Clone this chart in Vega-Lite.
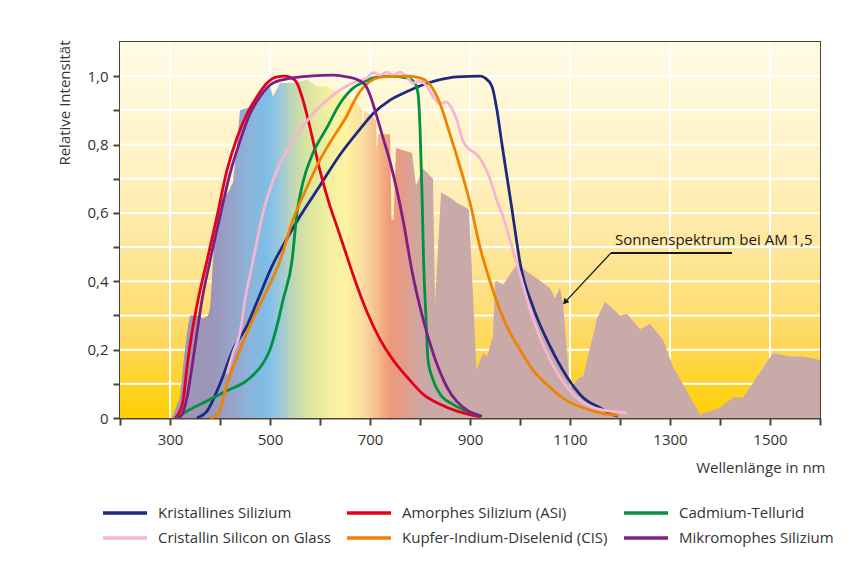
{
  "$schema": "https://vega.github.io/schema/vega-lite/v6.json",
  "width": 700,
  "height": 376,
  "autosize": {"type": "none"},
  "padding": {"left": 120, "top": 42, "right": 45, "bottom": 151},
  "background": "white",
  "config": {
    "font": "Open Sans",
    "view": {"stroke": "#4b4536", "strokeWidth": 2},
    "axis": {"labelFont": "Open Sans", "titleFont": "Open Sans"}
  },
  "datasets": {
    "bg": [{"nm": 200, "nm2": 1600, "v": 0, "v2": 1.1}],
    "gx": [
      {"nm": 300, "v": 0, "v2": 1.1}, {"nm": 500, "v": 0, "v2": 1.1}, {"nm": 700, "v": 0, "v2": 1.1}, {"nm": 900, "v": 0, "v2": 1.1},
      {"nm": 1100, "v": 0, "v2": 1.1}, {"nm": 1300, "v": 0, "v2": 1.1}, {"nm": 1500, "v": 0, "v2": 1.1}
    ],
    "gy": [
      {"nm": 200, "nm2": 1600, "v": 0.1}, {"nm": 200, "nm2": 1600, "v": 0.2}, {"nm": 200, "nm2": 1600, "v": 0.3},
      {"nm": 200, "nm2": 1600, "v": 0.4}, {"nm": 200, "nm2": 1600, "v": 0.5}, {"nm": 200, "nm2": 1600, "v": 0.6},
      {"nm": 200, "nm2": 1600, "v": 0.7}, {"nm": 200, "nm2": 1600, "v": 0.8}, {"nm": 200, "nm2": 1600, "v": 0.9},
      {"nm": 200, "nm2": 1600, "v": 1.0}
    ],
    "spectrum": [
      {"nm": 300, "v": 0}, {"nm": 304, "v": 0}, {"nm": 312, "v": 0.03}, {"nm": 320, "v": 0.06}, {"nm": 326, "v": 0.15},
      {"nm": 334, "v": 0.25}, {"nm": 340, "v": 0.3}, {"nm": 356, "v": 0.3}, {"nm": 366, "v": 0.29}, {"nm": 376, "v": 0.3},
      {"nm": 380, "v": 0.32}, {"nm": 388, "v": 0.5}, {"nm": 398, "v": 0.63}, {"nm": 408, "v": 0.65}, {"nm": 416, "v": 0.66},
      {"nm": 426, "v": 0.69}, {"nm": 434, "v": 0.8}, {"nm": 440, "v": 0.9}, {"nm": 460, "v": 0.91}, {"nm": 474, "v": 0.93},
      {"nm": 486, "v": 0.96}, {"nm": 500, "v": 0.97}, {"nm": 506, "v": 0.94}, {"nm": 520, "v": 0.98}, {"nm": 550, "v": 0.98},
      {"nm": 574, "v": 0.99}, {"nm": 594, "v": 0.97}, {"nm": 614, "v": 0.97}, {"nm": 640, "v": 0.95}, {"nm": 654, "v": 0.94},
      {"nm": 674, "v": 0.92}, {"nm": 684, "v": 0.9}, {"nm": 686, "v": 0.81}, {"nm": 688, "v": 0.9}, {"nm": 706, "v": 0.88},
      {"nm": 712, "v": 0.87}, {"nm": 714, "v": 0.77}, {"nm": 716, "v": 0.83}, {"nm": 740, "v": 0.83}, {"nm": 743, "v": 0.58},
      {"nm": 747, "v": 0.58}, {"nm": 752, "v": 0.79}, {"nm": 784, "v": 0.775}, {"nm": 792, "v": 0.68}, {"nm": 806, "v": 0.73},
      {"nm": 826, "v": 0.7}, {"nm": 830, "v": 0.33}, {"nm": 842, "v": 0.66}, {"nm": 860, "v": 0.645}, {"nm": 874, "v": 0.63},
      {"nm": 898, "v": 0.61}, {"nm": 913, "v": 0.14}, {"nm": 926, "v": 0.19}, {"nm": 934, "v": 0.18}, {"nm": 946, "v": 0.24},
      {"nm": 950, "v": 0.4}, {"nm": 954, "v": 0.4}, {"nm": 966, "v": 0.39}, {"nm": 994, "v": 0.45}, {"nm": 1060, "v": 0.38},
      {"nm": 1070, "v": 0.35}, {"nm": 1080, "v": 0.38}, {"nm": 1086, "v": 0.336}, {"nm": 1100, "v": 0.09}, {"nm": 1120, "v": 0.12},
      {"nm": 1126, "v": 0.12}, {"nm": 1154, "v": 0.29}, {"nm": 1170, "v": 0.34}, {"nm": 1200, "v": 0.3}, {"nm": 1214, "v": 0.305},
      {"nm": 1240, "v": 0.26}, {"nm": 1260, "v": 0.275}, {"nm": 1286, "v": 0.23}, {"nm": 1306, "v": 0.15}, {"nm": 1360, "v": 0.01},
      {"nm": 1400, "v": 0.03}, {"nm": 1426, "v": 0.06}, {"nm": 1446, "v": 0.06}, {"nm": 1506, "v": 0.19}, {"nm": 1540, "v": 0.18},
      {"nm": 1566, "v": 0.18}, {"nm": 1600, "v": 0.17}
    ],
    "curves": [
      {"s": "Kristallines Silizium", "nm": 354, "v": 0}, {"s": "Kristallines Silizium", "nm": 374, "v": 0.02},
      {"s": "Kristallines Silizium", "nm": 400, "v": 0.1}, {"s": "Kristallines Silizium", "nm": 426, "v": 0.2},
      {"s": "Kristallines Silizium", "nm": 454, "v": 0.27}, {"s": "Kristallines Silizium", "nm": 474, "v": 0.34},
      {"s": "Kristallines Silizium", "nm": 506, "v": 0.45}, {"s": "Kristallines Silizium", "nm": 530, "v": 0.515},
      {"s": "Kristallines Silizium", "nm": 560, "v": 0.59}, {"s": "Kristallines Silizium", "nm": 600, "v": 0.68},
      {"s": "Kristallines Silizium", "nm": 640, "v": 0.77}, {"s": "Kristallines Silizium", "nm": 680, "v": 0.845},
      {"s": "Kristallines Silizium", "nm": 706, "v": 0.89}, {"s": "Kristallines Silizium", "nm": 740, "v": 0.93},
      {"s": "Kristallines Silizium", "nm": 774, "v": 0.955}, {"s": "Kristallines Silizium", "nm": 806, "v": 0.975},
      {"s": "Kristallines Silizium", "nm": 840, "v": 0.99}, {"s": "Kristallines Silizium", "nm": 874, "v": 0.998},
      {"s": "Kristallines Silizium", "nm": 920, "v": 1.0}, {"s": "Kristallines Silizium", "nm": 930, "v": 0.995},
      {"s": "Kristallines Silizium", "nm": 944, "v": 0.97}, {"s": "Kristallines Silizium", "nm": 954, "v": 0.9},
      {"s": "Kristallines Silizium", "nm": 964, "v": 0.8}, {"s": "Kristallines Silizium", "nm": 974, "v": 0.705},
      {"s": "Kristallines Silizium", "nm": 984, "v": 0.61}, {"s": "Kristallines Silizium", "nm": 994, "v": 0.51},
      {"s": "Kristallines Silizium", "nm": 1000, "v": 0.455}, {"s": "Kristallines Silizium", "nm": 1026, "v": 0.325},
      {"s": "Kristallines Silizium", "nm": 1060, "v": 0.21}, {"s": "Kristallines Silizium", "nm": 1094, "v": 0.12},
      {"s": "Kristallines Silizium", "nm": 1126, "v": 0.06}, {"s": "Kristallines Silizium", "nm": 1160, "v": 0.03},
      {"s": "Kristallines Silizium", "nm": 1186, "v": 0.01}, {"s": "Kristallines Silizium", "nm": 1196, "v": 0.005},

      {"s": "Amorphes Silizium (ASi)", "nm": 310, "v": 0}, {"s": "Amorphes Silizium (ASi)", "nm": 316, "v": 0.01},
      {"s": "Amorphes Silizium (ASi)", "nm": 326, "v": 0.05}, {"s": "Amorphes Silizium (ASi)", "nm": 334, "v": 0.15},
      {"s": "Amorphes Silizium (ASi)", "nm": 344, "v": 0.25}, {"s": "Amorphes Silizium (ASi)", "nm": 356, "v": 0.345},
      {"s": "Amorphes Silizium (ASi)", "nm": 374, "v": 0.46}, {"s": "Amorphes Silizium (ASi)", "nm": 394, "v": 0.59},
      {"s": "Amorphes Silizium (ASi)", "nm": 414, "v": 0.725}, {"s": "Amorphes Silizium (ASi)", "nm": 434, "v": 0.82},
      {"s": "Amorphes Silizium (ASi)", "nm": 454, "v": 0.89}, {"s": "Amorphes Silizium (ASi)", "nm": 474, "v": 0.94},
      {"s": "Amorphes Silizium (ASi)", "nm": 494, "v": 0.98}, {"s": "Amorphes Silizium (ASi)", "nm": 514, "v": 0.998},
      {"s": "Amorphes Silizium (ASi)", "nm": 530, "v": 1.0}, {"s": "Amorphes Silizium (ASi)", "nm": 544, "v": 0.995},
      {"s": "Amorphes Silizium (ASi)", "nm": 554, "v": 0.98}, {"s": "Amorphes Silizium (ASi)", "nm": 566, "v": 0.93},
      {"s": "Amorphes Silizium (ASi)", "nm": 580, "v": 0.85}, {"s": "Amorphes Silizium (ASi)", "nm": 594, "v": 0.76},
      {"s": "Amorphes Silizium (ASi)", "nm": 606, "v": 0.69}, {"s": "Amorphes Silizium (ASi)", "nm": 620, "v": 0.62},
      {"s": "Amorphes Silizium (ASi)", "nm": 634, "v": 0.56}, {"s": "Amorphes Silizium (ASi)", "nm": 650, "v": 0.49},
      {"s": "Amorphes Silizium (ASi)", "nm": 666, "v": 0.42}, {"s": "Amorphes Silizium (ASi)", "nm": 694, "v": 0.31},
      {"s": "Amorphes Silizium (ASi)", "nm": 720, "v": 0.23}, {"s": "Amorphes Silizium (ASi)", "nm": 746, "v": 0.17},
      {"s": "Amorphes Silizium (ASi)", "nm": 774, "v": 0.12}, {"s": "Amorphes Silizium (ASi)", "nm": 806, "v": 0.07},
      {"s": "Amorphes Silizium (ASi)", "nm": 840, "v": 0.04}, {"s": "Amorphes Silizium (ASi)", "nm": 874, "v": 0.02},
      {"s": "Amorphes Silizium (ASi)", "nm": 900, "v": 0.01}, {"s": "Amorphes Silizium (ASi)", "nm": 920, "v": 0.004},

      {"s": "Cadmium-Tellurid", "nm": 314, "v": 0}, {"s": "Cadmium-Tellurid", "nm": 334, "v": 0.02},
      {"s": "Cadmium-Tellurid", "nm": 374, "v": 0.05}, {"s": "Cadmium-Tellurid", "nm": 414, "v": 0.08},
      {"s": "Cadmium-Tellurid", "nm": 454, "v": 0.11}, {"s": "Cadmium-Tellurid", "nm": 486, "v": 0.16},
      {"s": "Cadmium-Tellurid", "nm": 500, "v": 0.2}, {"s": "Cadmium-Tellurid", "nm": 514, "v": 0.27},
      {"s": "Cadmium-Tellurid", "nm": 526, "v": 0.345}, {"s": "Cadmium-Tellurid", "nm": 544, "v": 0.46},
      {"s": "Cadmium-Tellurid", "nm": 554, "v": 0.6}, {"s": "Cadmium-Tellurid", "nm": 566, "v": 0.69},
      {"s": "Cadmium-Tellurid", "nm": 586, "v": 0.775}, {"s": "Cadmium-Tellurid", "nm": 614, "v": 0.85},
      {"s": "Cadmium-Tellurid", "nm": 640, "v": 0.92}, {"s": "Cadmium-Tellurid", "nm": 666, "v": 0.965},
      {"s": "Cadmium-Tellurid", "nm": 690, "v": 0.985}, {"s": "Cadmium-Tellurid", "nm": 706, "v": 0.995},
      {"s": "Cadmium-Tellurid", "nm": 740, "v": 1.0}, {"s": "Cadmium-Tellurid", "nm": 774, "v": 0.995},
      {"s": "Cadmium-Tellurid", "nm": 790, "v": 0.98}, {"s": "Cadmium-Tellurid", "nm": 796, "v": 0.95},
      {"s": "Cadmium-Tellurid", "nm": 800, "v": 0.85}, {"s": "Cadmium-Tellurid", "nm": 804, "v": 0.66},
      {"s": "Cadmium-Tellurid", "nm": 807, "v": 0.47}, {"s": "Cadmium-Tellurid", "nm": 812, "v": 0.29},
      {"s": "Cadmium-Tellurid", "nm": 816, "v": 0.17}, {"s": "Cadmium-Tellurid", "nm": 824, "v": 0.12},
      {"s": "Cadmium-Tellurid", "nm": 840, "v": 0.07}, {"s": "Cadmium-Tellurid", "nm": 866, "v": 0.04},
      {"s": "Cadmium-Tellurid", "nm": 894, "v": 0.02}, {"s": "Cadmium-Tellurid", "nm": 924, "v": 0.005},

      {"s": "Cristallin Silicon on Glass", "nm": 414, "v": 0.13}, {"s": "Cristallin Silicon on Glass", "nm": 426, "v": 0.19},
      {"s": "Cristallin Silicon on Glass", "nm": 440, "v": 0.25}, {"s": "Cristallin Silicon on Glass", "nm": 450, "v": 0.345},
      {"s": "Cristallin Silicon on Glass", "nm": 466, "v": 0.46}, {"s": "Cristallin Silicon on Glass", "nm": 486, "v": 0.6},
      {"s": "Cristallin Silicon on Glass", "nm": 514, "v": 0.725}, {"s": "Cristallin Silicon on Glass", "nm": 546, "v": 0.81},
      {"s": "Cristallin Silicon on Glass", "nm": 580, "v": 0.88}, {"s": "Cristallin Silicon on Glass", "nm": 614, "v": 0.93},
      {"s": "Cristallin Silicon on Glass", "nm": 646, "v": 0.965}, {"s": "Cristallin Silicon on Glass", "nm": 674, "v": 0.985},
      {"s": "Cristallin Silicon on Glass", "nm": 694, "v": 0.995}, {"s": "Cristallin Silicon on Glass", "nm": 706, "v": 1.01},
      {"s": "Cristallin Silicon on Glass", "nm": 720, "v": 1.003}, {"s": "Cristallin Silicon on Glass", "nm": 734, "v": 1.012},
      {"s": "Cristallin Silicon on Glass", "nm": 746, "v": 1.003}, {"s": "Cristallin Silicon on Glass", "nm": 760, "v": 1.012},
      {"s": "Cristallin Silicon on Glass", "nm": 774, "v": 0.998}, {"s": "Cristallin Silicon on Glass", "nm": 786, "v": 0.98},
      {"s": "Cristallin Silicon on Glass", "nm": 800, "v": 0.985}, {"s": "Cristallin Silicon on Glass", "nm": 814, "v": 0.97},
      {"s": "Cristallin Silicon on Glass", "nm": 826, "v": 0.94}, {"s": "Cristallin Silicon on Glass", "nm": 840, "v": 0.92},
      {"s": "Cristallin Silicon on Glass", "nm": 852, "v": 0.925}, {"s": "Cristallin Silicon on Glass", "nm": 862, "v": 0.91},
      {"s": "Cristallin Silicon on Glass", "nm": 874, "v": 0.87}, {"s": "Cristallin Silicon on Glass", "nm": 886, "v": 0.81},
      {"s": "Cristallin Silicon on Glass", "nm": 900, "v": 0.785}, {"s": "Cristallin Silicon on Glass", "nm": 914, "v": 0.77},
      {"s": "Cristallin Silicon on Glass", "nm": 926, "v": 0.745}, {"s": "Cristallin Silicon on Glass", "nm": 940, "v": 0.7},
      {"s": "Cristallin Silicon on Glass", "nm": 954, "v": 0.635}, {"s": "Cristallin Silicon on Glass", "nm": 966, "v": 0.59},
      {"s": "Cristallin Silicon on Glass", "nm": 980, "v": 0.52}, {"s": "Cristallin Silicon on Glass", "nm": 1000, "v": 0.42},
      {"s": "Cristallin Silicon on Glass", "nm": 1026, "v": 0.29}, {"s": "Cristallin Silicon on Glass", "nm": 1060, "v": 0.17},
      {"s": "Cristallin Silicon on Glass", "nm": 1094, "v": 0.09}, {"s": "Cristallin Silicon on Glass", "nm": 1126, "v": 0.045},
      {"s": "Cristallin Silicon on Glass", "nm": 1160, "v": 0.025}, {"s": "Cristallin Silicon on Glass", "nm": 1214, "v": 0.015},

      {"s": "Kupfer-Indium-Diselenid (CIS)", "nm": 380, "v": 0}, {"s": "Kupfer-Indium-Diselenid (CIS)", "nm": 396, "v": 0.01},
      {"s": "Kupfer-Indium-Diselenid (CIS)", "nm": 414, "v": 0.1}, {"s": "Kupfer-Indium-Diselenid (CIS)", "nm": 440, "v": 0.2},
      {"s": "Kupfer-Indium-Diselenid (CIS)", "nm": 466, "v": 0.29}, {"s": "Kupfer-Indium-Diselenid (CIS)", "nm": 486, "v": 0.35},
      {"s": "Kupfer-Indium-Diselenid (CIS)", "nm": 520, "v": 0.46}, {"s": "Kupfer-Indium-Diselenid (CIS)", "nm": 546, "v": 0.58},
      {"s": "Kupfer-Indium-Diselenid (CIS)", "nm": 574, "v": 0.675}, {"s": "Kupfer-Indium-Diselenid (CIS)", "nm": 600, "v": 0.755},
      {"s": "Kupfer-Indium-Diselenid (CIS)", "nm": 626, "v": 0.82}, {"s": "Kupfer-Indium-Diselenid (CIS)", "nm": 654, "v": 0.885},
      {"s": "Kupfer-Indium-Diselenid (CIS)", "nm": 666, "v": 0.92}, {"s": "Kupfer-Indium-Diselenid (CIS)", "nm": 680, "v": 0.955},
      {"s": "Kupfer-Indium-Diselenid (CIS)", "nm": 694, "v": 0.978}, {"s": "Kupfer-Indium-Diselenid (CIS)", "nm": 726, "v": 0.998},
      {"s": "Kupfer-Indium-Diselenid (CIS)", "nm": 774, "v": 1.0}, {"s": "Kupfer-Indium-Diselenid (CIS)", "nm": 800, "v": 0.995},
      {"s": "Kupfer-Indium-Diselenid (CIS)", "nm": 820, "v": 0.975}, {"s": "Kupfer-Indium-Diselenid (CIS)", "nm": 840, "v": 0.92},
      {"s": "Kupfer-Indium-Diselenid (CIS)", "nm": 860, "v": 0.83}, {"s": "Kupfer-Indium-Diselenid (CIS)", "nm": 880, "v": 0.735},
      {"s": "Kupfer-Indium-Diselenid (CIS)", "nm": 900, "v": 0.63}, {"s": "Kupfer-Indium-Diselenid (CIS)", "nm": 920, "v": 0.5},
      {"s": "Kupfer-Indium-Diselenid (CIS)", "nm": 940, "v": 0.4}, {"s": "Kupfer-Indium-Diselenid (CIS)", "nm": 960, "v": 0.315},
      {"s": "Kupfer-Indium-Diselenid (CIS)", "nm": 980, "v": 0.25}, {"s": "Kupfer-Indium-Diselenid (CIS)", "nm": 1000, "v": 0.2},
      {"s": "Kupfer-Indium-Diselenid (CIS)", "nm": 1026, "v": 0.14}, {"s": "Kupfer-Indium-Diselenid (CIS)", "nm": 1060, "v": 0.09},
      {"s": "Kupfer-Indium-Diselenid (CIS)", "nm": 1094, "v": 0.05}, {"s": "Kupfer-Indium-Diselenid (CIS)", "nm": 1126, "v": 0.03},
      {"s": "Kupfer-Indium-Diselenid (CIS)", "nm": 1160, "v": 0.015}, {"s": "Kupfer-Indium-Diselenid (CIS)", "nm": 1196, "v": 0.008},

      {"s": "Mikromophes Silizium", "nm": 316, "v": 0}, {"s": "Mikromophes Silizium", "nm": 324, "v": 0.01},
      {"s": "Mikromophes Silizium", "nm": 334, "v": 0.06}, {"s": "Mikromophes Silizium", "nm": 344, "v": 0.15},
      {"s": "Mikromophes Silizium", "nm": 354, "v": 0.25}, {"s": "Mikromophes Silizium", "nm": 364, "v": 0.345},
      {"s": "Mikromophes Silizium", "nm": 380, "v": 0.46}, {"s": "Mikromophes Silizium", "nm": 400, "v": 0.59},
      {"s": "Mikromophes Silizium", "nm": 420, "v": 0.715}, {"s": "Mikromophes Silizium", "nm": 440, "v": 0.81},
      {"s": "Mikromophes Silizium", "nm": 460, "v": 0.89}, {"s": "Mikromophes Silizium", "nm": 480, "v": 0.94},
      {"s": "Mikromophes Silizium", "nm": 506, "v": 0.98}, {"s": "Mikromophes Silizium", "nm": 546, "v": 0.995},
      {"s": "Mikromophes Silizium", "nm": 580, "v": 1.0}, {"s": "Mikromophes Silizium", "nm": 626, "v": 1.003},
      {"s": "Mikromophes Silizium", "nm": 654, "v": 0.998}, {"s": "Mikromophes Silizium", "nm": 674, "v": 0.99},
      {"s": "Mikromophes Silizium", "nm": 690, "v": 0.975}, {"s": "Mikromophes Silizium", "nm": 700, "v": 0.945},
      {"s": "Mikromophes Silizium", "nm": 710, "v": 0.9}, {"s": "Mikromophes Silizium", "nm": 724, "v": 0.83},
      {"s": "Mikromophes Silizium", "nm": 740, "v": 0.75}, {"s": "Mikromophes Silizium", "nm": 766, "v": 0.58},
      {"s": "Mikromophes Silizium", "nm": 784, "v": 0.43}, {"s": "Mikromophes Silizium", "nm": 806, "v": 0.29},
      {"s": "Mikromophes Silizium", "nm": 826, "v": 0.19}, {"s": "Mikromophes Silizium", "nm": 854, "v": 0.09},
      {"s": "Mikromophes Silizium", "nm": 894, "v": 0.023}, {"s": "Mikromophes Silizium", "nm": 922, "v": 0.005}
    ],
    "annH": [{"nm": 1182, "v": 0.483, "nm2": 1424, "v2": 0.483}],
    "annD": [{"nm": 1182, "v": 0.483, "nm2": 1092, "v2": 0.342}],
    "arrow": [{"nm": 1090, "v": 0.339}],
    "label": [{"nm": 1190, "v": 0.506, "t": "Sonnenspektrum bei AM 1,5"}]
  },
  "encoding": {
    "x": {
      "field": "nm", "type": "quantitative",
      "scale": {"domain": [200, 1600], "nice": false, "zero": false},
      "axis": {
        "values": [200, 300, 400, 500, 600, 700, 800, 900, 1000, 1100, 1200, 1300, 1400, 1500, 1600],
        "labelExpr": "(datum.value - 300) % 200 == 0 ? format(datum.value, 'd') : ''",
        "labelOverlap": false, "labelFlush": false,
        "grid": false, "tickSize": 7, "tickWidth": 2, "tickColor": "#4b4536",
        "domainColor": "#4b4536", "domainWidth": 2,
        "labelFontSize": 15, "labelColor": "#333333", "labelPadding": 7,
        "title": "Wellenlänge in nm", "titleFontSize": 15, "titleFontWeight": "normal", "titleColor": "#333333",
        "titleAnchor": "end", "titleAlign": "right", "titleX": 705, "titleY": 54, "titleBaseline": "alphabetic"
      }
    },
    "y": {
      "field": "v", "type": "quantitative",
      "scale": {"domain": [0, 1.1], "nice": false, "zero": true},
      "axis": {
        "values": [0, 0.1, 0.2, 0.3, 0.4, 0.5, 0.6, 0.7, 0.8, 0.9, 1.0],
        "labelExpr": "round(datum.value * 10) % 2 == 0 ? (datum.value == 0 ? '0' : replace(format(datum.value, '.1f'), '.', ',')) : ''",
        "labelOverlap": false, "labelFlush": false,
        "grid": false, "tickSize": 7, "tickWidth": 2, "tickColor": "#4b4536",
        "domainColor": "#4b4536", "domainWidth": 2,
        "labelFontSize": 15, "labelColor": "#333333", "labelPadding": 5,
        "title": "Relative Intensität", "titleFontSize": 15, "titleFontWeight": "normal", "titleColor": "#333333",
        "titleAngle": -90, "titleAnchor": "end", "titleAlign": "right", "titleBaseline": "middle",
        "titleX": -56, "titleY": -2
      }
    }
  },
  "layer": [
    {
      "data": {"name": "bg"},
      "mark": {
        "type": "rect",
        "fill": {
          "gradient": "linear", "x1": 0, "y1": 0, "x2": 0, "y2": 1,
          "stops": [
            {"offset": 0, "color": "#fffbe6"},
            {"offset": 0.3, "color": "#fff3c6"},
            {"offset": 0.55, "color": "#fee79e"},
            {"offset": 0.78, "color": "#fed962"},
            {"offset": 1, "color": "#ffcf00"}
          ]
        }
      },
      "encoding": {"x2": {"field": "nm2"}, "y2": {"field": "v2"}}
    },
    {
      "data": {"name": "gx"},
      "mark": {"type": "rule", "color": "white", "strokeWidth": 2},
      "encoding": {"y2": {"field": "v2"}}
    },
    {
      "data": {"name": "gy"},
      "mark": {"type": "rule", "color": "white", "strokeWidth": 2},
      "encoding": {"x2": {"field": "nm2"}}
    },
    {
      "data": {"name": "spectrum"},
      "mark": {
        "type": "area",
        "interpolate": "linear",
        "fill": {
          "gradient": "linear", "x1": 0, "y1": 0, "x2": 1, "y2": 0,
          "stops": [
            {"offset": 0, "color": "#9e96b8"},
            {"offset": 0.0615, "color": "#9b95b8"},
            {"offset": 0.092, "color": "#98a2c8"},
            {"offset": 0.123, "color": "#8ab4dc"},
            {"offset": 0.15, "color": "#7fbee6"},
            {"offset": 0.169, "color": "#9cc8dc"},
            {"offset": 0.192, "color": "#c4d9b0"},
            {"offset": 0.215, "color": "#dde6a0"},
            {"offset": 0.246, "color": "#f3f0a0"},
            {"offset": 0.273, "color": "#fff2a0"},
            {"offset": 0.3, "color": "#fad9a0"},
            {"offset": 0.319, "color": "#f5bc8c"},
            {"offset": 0.338, "color": "#ee9a7a"},
            {"offset": 0.358, "color": "#e49c88"},
            {"offset": 0.377, "color": "#d4a49c"},
            {"offset": 0.396, "color": "#c9aaa8"},
            {"offset": 1, "color": "#c8aaa8"}
          ]
        }
      }
    },
    {
      "data": {"name": "curves"},
      "mark": {"type": "line", "strokeWidth": 2.8, "interpolate": "monotone"},
      "encoding": {
        "color": {
          "field": "s", "type": "nominal",
          "scale": {
            "domain": ["Kristallines Silizium", "Amorphes Silizium (ASi)", "Cadmium-Tellurid", "Cristallin Silicon on Glass", "Kupfer-Indium-Diselenid (CIS)", "Mikromophes Silizium"],
            "range": ["#1e2a80", "#e3001b", "#00923f", "#f4b6d2", "#ef8200", "#7f1f84"]
          },
          "legend": {
            "title": null, "orient": "none", "legendX": -5, "legendY": 461,
            "direction": "horizontal", "columns": 3,
            "symbolType": "M-2.75,0H2.75", "symbolSize": 256, "symbolStrokeWidth": 3.5,
            "symbolFillColor": "transparent",
            "labelFontSize": 15, "labelFont": "Open Sans", "labelColor": "#333333", "labelOffset": 23,
            "columnPadding": 9, "rowPadding": 7, "labelLimit": 400
          }
        }
      }
    },
    {
      "data": {"name": "annH"},
      "mark": {"type": "rule", "color": "#1a1a1a", "strokeWidth": 2},
      "encoding": {"x2": {"field": "nm2"}, "y2": {"field": "v2"}}
    },
    {
      "data": {"name": "annD"},
      "mark": {"type": "rule", "color": "#1a1a1a", "strokeWidth": 1.3},
      "encoding": {"x2": {"field": "nm2"}, "y2": {"field": "v2"}}
    },
    {
      "data": {"name": "arrow"},
      "mark": {"type": "point", "shape": "triangle-up", "filled": true, "color": "#1a1a1a", "size": 45, "angle": 223, "opacity": 1}
    },
    {
      "data": {"name": "label"},
      "mark": {"type": "text", "align": "left", "baseline": "alphabetic", "fontSize": 15, "font": "Open Sans", "color": "#1a1a1a"},
      "encoding": {"text": {"field": "t"}}
    }
  ]
}
